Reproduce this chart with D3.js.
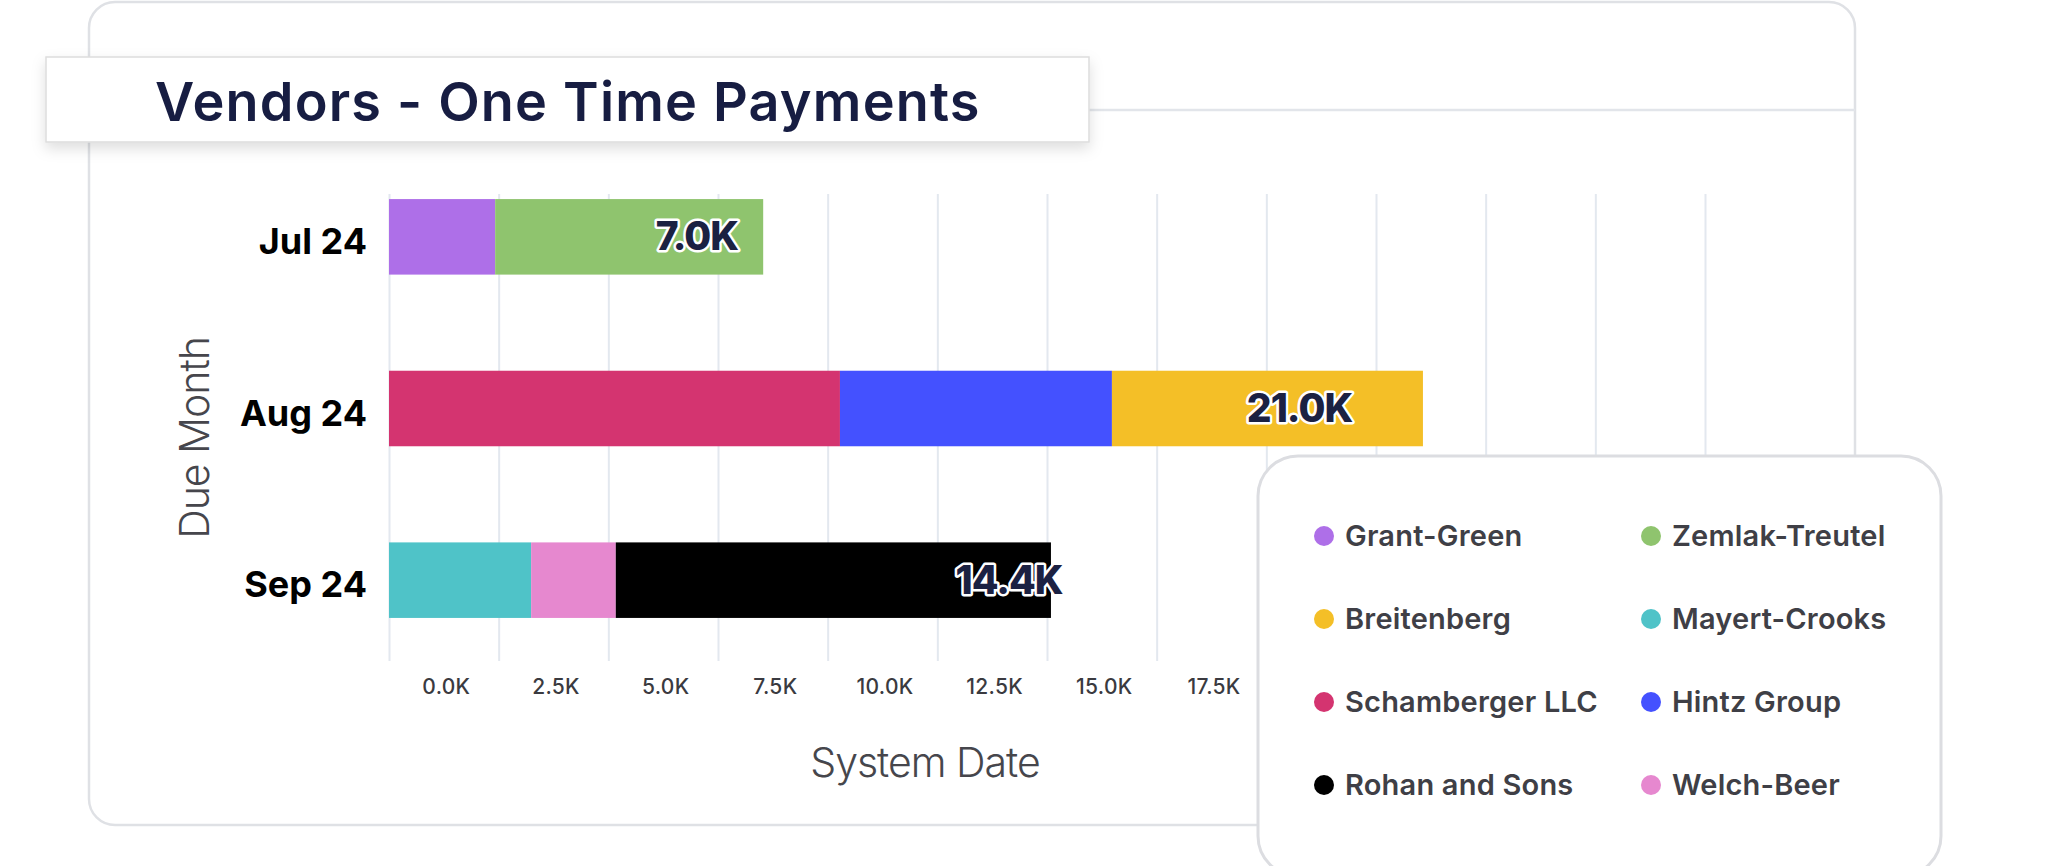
<!DOCTYPE html>
<html>
<head>
<meta charset="utf-8">
<script src="https://cdn.jsdelivr.net/npm/d3@7"></script>
<style>
  html, body { margin: 0; padding: 0; background: #fff; }
  svg { display: block; font-family: Inter, "Noto Sans", sans-serif; }
</style>
</head>
<body>
<div id="chartDiv"></div>
<script>
// ---- data (values in thousands) ----
const months = ["Jul 24", "Aug 24", "Sep 24"];
const vendors = ["Grant-Green", "Zemlak-Treutel", "Breitenberg", "Mayert-Crooks",
                 "Schamberger LLC", "Hintz Group", "Rohan and Sons", "Welch-Beer"];
const vendorColours = ["#ae6fe8", "#8fc46e", "#f4bf27", "#4fc3c8",
                       "#d43470", "#4451ff", "#000000", "#e688cf"];
// stacking order along each bar
const stackKeys = ["Grant-Green", "Zemlak-Treutel", "Schamberger LLC", "Hintz Group",
                   "Breitenberg", "Mayert-Crooks", "Welch-Beer", "Rohan and Sons"];

const grantGreen     = [2.42, 0, 0];
const zemlakTreutel  = [6.11, 0, 0];
const schamberger    = [0, 10.28, 0];
const hintzGroup     = [0, 6.20, 0];
const breitenberg    = [0, 7.09, 0];
const mayertCrooks   = [0, 0, 3.24];
const welchBeer      = [0, 0, 1.93];
const rohanAndSons   = [0, 0, 9.92];

const totalLabels = [7.0, 21.0, 14.4];
const gridTicks = d3.range(0, 30.001, 2.5);
const tickLabels = [0, 2.5, 5, 7.5, 10, 12.5, 15, 17.5]; // the rest sit under the legend

const seriesByVendor = {
    "Grant-Green": grantGreen, "Zemlak-Treutel": zemlakTreutel,
    "Schamberger LLC": schamberger, "Hintz Group": hintzGroup,
    "Breitenberg": breitenberg, "Mayert-Crooks": mayertCrooks,
    "Welch-Beer": welchBeer, "Rohan and Sons": rohanAndSons
};

const table = months.map((m, i) => {
    const row = { month: m };
    stackKeys.forEach(k => row[k] = seriesByVendor[k][i]);
    return row;
});

// ---- layout ----
const W = 2048, H = 866;
const svg = d3.select("#chartDiv").append("svg")
    .attr("width", W).attr("height", H);

const defs = svg.append("defs");
const shadow = defs.append("filter").attr("id", "shadow")
    .attr("x", "-10%").attr("y", "-30%").attr("width", "120%").attr("height", "170%");
shadow.append("feDropShadow")
    .attr("dx", 0).attr("dy", 6).attr("stdDeviation", 7)
    .attr("flood-color", "#000").attr("flood-opacity", 0.13);

// card
svg.append("rect")
    .attr("x", 89).attr("y", 2).attr("width", 1766).attr("height", 823)
    .attr("rx", 26)
    .attr("fill", "#fff").attr("stroke", "#dfe1e5").attr("stroke-width", 2.5);

svg.append("line")
    .attr("x1", 89).attr("x2", 1855).attr("y1", 110).attr("y2", 110)
    .attr("stroke", "#e2e5ea").attr("stroke-width", 2.5);

// scales
const x = d3.scaleLinear().domain([0, 30]).range([389, 1705]);
const y = d3.scaleBand().domain(months).range([151, 666])
    .paddingInner(0.56).paddingOuter(0.28);
const colour = d3.scaleOrdinal().domain(vendors).range(vendorColours);

const gridTop = 194, gridBottom = 661;

// gridlines
const grid = svg.append("g")
    .attr("transform", `translate(0,${gridBottom})`)
    .call(d3.axisBottom(x).tickValues(gridTicks).tickSize(-(gridBottom - gridTop)).tickFormat(""));
grid.select(".domain").remove();
grid.selectAll(".tick line").attr("stroke", "#e3e8ef").attr("stroke-width", 2);

// tick labels sit in the middle of each grid cell
const halfStep = (x(2.5) - x(0)) / 2;
const kFmt = v => d3.format(".1f")(v) + "K";
const xAxis = svg.append("g")
    .attr("transform", `translate(${halfStep + 2},676)`)
    .call(d3.axisBottom(x).tickValues(tickLabels).tickSize(0).tickPadding(0).tickFormat(kFmt));
xAxis.select(".domain").remove();
xAxis.selectAll("text")
    .attr("font-family", "Inter, sans-serif")
    .attr("font-size", 21).attr("font-weight", 500)
    .attr("letter-spacing", 0.3)
    .attr("fill", "#3a3a40").attr("dy", "0.85em");

// stacked bars
const stacked = d3.stack().keys(stackKeys)(table);
svg.append("g").selectAll("g")
    .data(stacked)
    .join("g")
    .attr("fill", d => colour(d.key))
    .selectAll("rect")
    .data(d => d.filter(s => s[1] - s[0] > 0))
    .join("rect")
    .attr("x", d => x(d[0]))
    .attr("y", d => y(d.data.month))
    .attr("width", d => x(d[1]) - x(d[0]))
    .attr("height", y.bandwidth());

// total labels
svg.append("g").selectAll("text")
    .data(months)
    .join("text")
    .attr("x", (m, i) => x(totalLabels[i]) + 42)
    .attr("y", m => y(m) + y.bandwidth() / 2)
    .attr("dy", "0.35em")
    .attr("text-anchor", "end")
    .attr("font-family", "Inter, sans-serif")
    .attr("font-size", 39).attr("font-weight", 800)
    .attr("letter-spacing", -1)
    .attr("fill", "#1b2142")
    .attr("stroke", "#fff").attr("stroke-width", 5)
    .attr("stroke-linejoin", "round")
    .attr("paint-order", "stroke")
    .text((m, i) => kFmt(totalLabels[i]));

// y axis labels
const yAxis = svg.append("g")
    .attr("transform", "translate(367,0)")
    .call(d3.axisLeft(y).tickSize(0).tickPadding(0));
yAxis.select(".domain").remove();
yAxis.selectAll("text")
    .attr("font-family", "Inter, sans-serif")
    .attr("font-size", 36).attr("font-weight", 700)
    .attr("fill", "#000").attr("dy", "0.48em");

// axis titles
svg.append("text")
    .attr("x", 925).attr("y", 777)
    .attr("text-anchor", "middle")
    .attr("font-size", 41).attr("font-weight", 300)
    .attr("letter-spacing", -1)
    .attr("fill", "#46464c")
    .text("System Date");

svg.append("text")
    .attr("transform", "translate(209,438) rotate(-90)")
    .attr("text-anchor", "middle")
    .attr("font-size", 41).attr("font-weight", 300)
    .attr("letter-spacing", -1)
    .attr("fill", "#46464c")
    .text("Due Month");

// title box
svg.append("rect")
    .attr("x", 46).attr("y", 57).attr("width", 1043).attr("height", 85)
    .attr("fill", "#fff").attr("stroke", "#dddddd").attr("stroke-width", 1.5)
    .attr("filter", "url(#shadow)");
svg.append("text")
    .attr("x", 155).attr("y", 121)
    .attr("font-size", 54).attr("font-weight", 600)
    .attr("letter-spacing", 1.2)
    .attr("fill", "#171d42")
    .text("Vendors - One Time Payments");

// legend
const legend = svg.append("g");
legend.append("rect")
    .attr("x", 1258).attr("y", 456).attr("width", 683).attr("height", 420)
    .attr("rx", 40)
    .attr("fill", "#fff").attr("stroke", "#dcdde1").attr("stroke-width", 3);

const item = legend.selectAll("g.item")
    .data(vendors)
    .join("g")
    .attr("class", "item")
    .attr("transform", (d, i) => `translate(${i % 2 ? 1651 : 1324},${536 + Math.floor(i / 2) * 83})`);
item.append("circle").attr("r", 10).attr("fill", d => colour(d));
item.append("text")
    .attr("x", 21).attr("dy", "0.36em")
    .attr("font-size", 29).attr("font-weight", 600)
    .attr("letter-spacing", 0.2)
    .attr("fill", "#3f3f46")
    .text(d => d);
</script>
</body>
</html>
